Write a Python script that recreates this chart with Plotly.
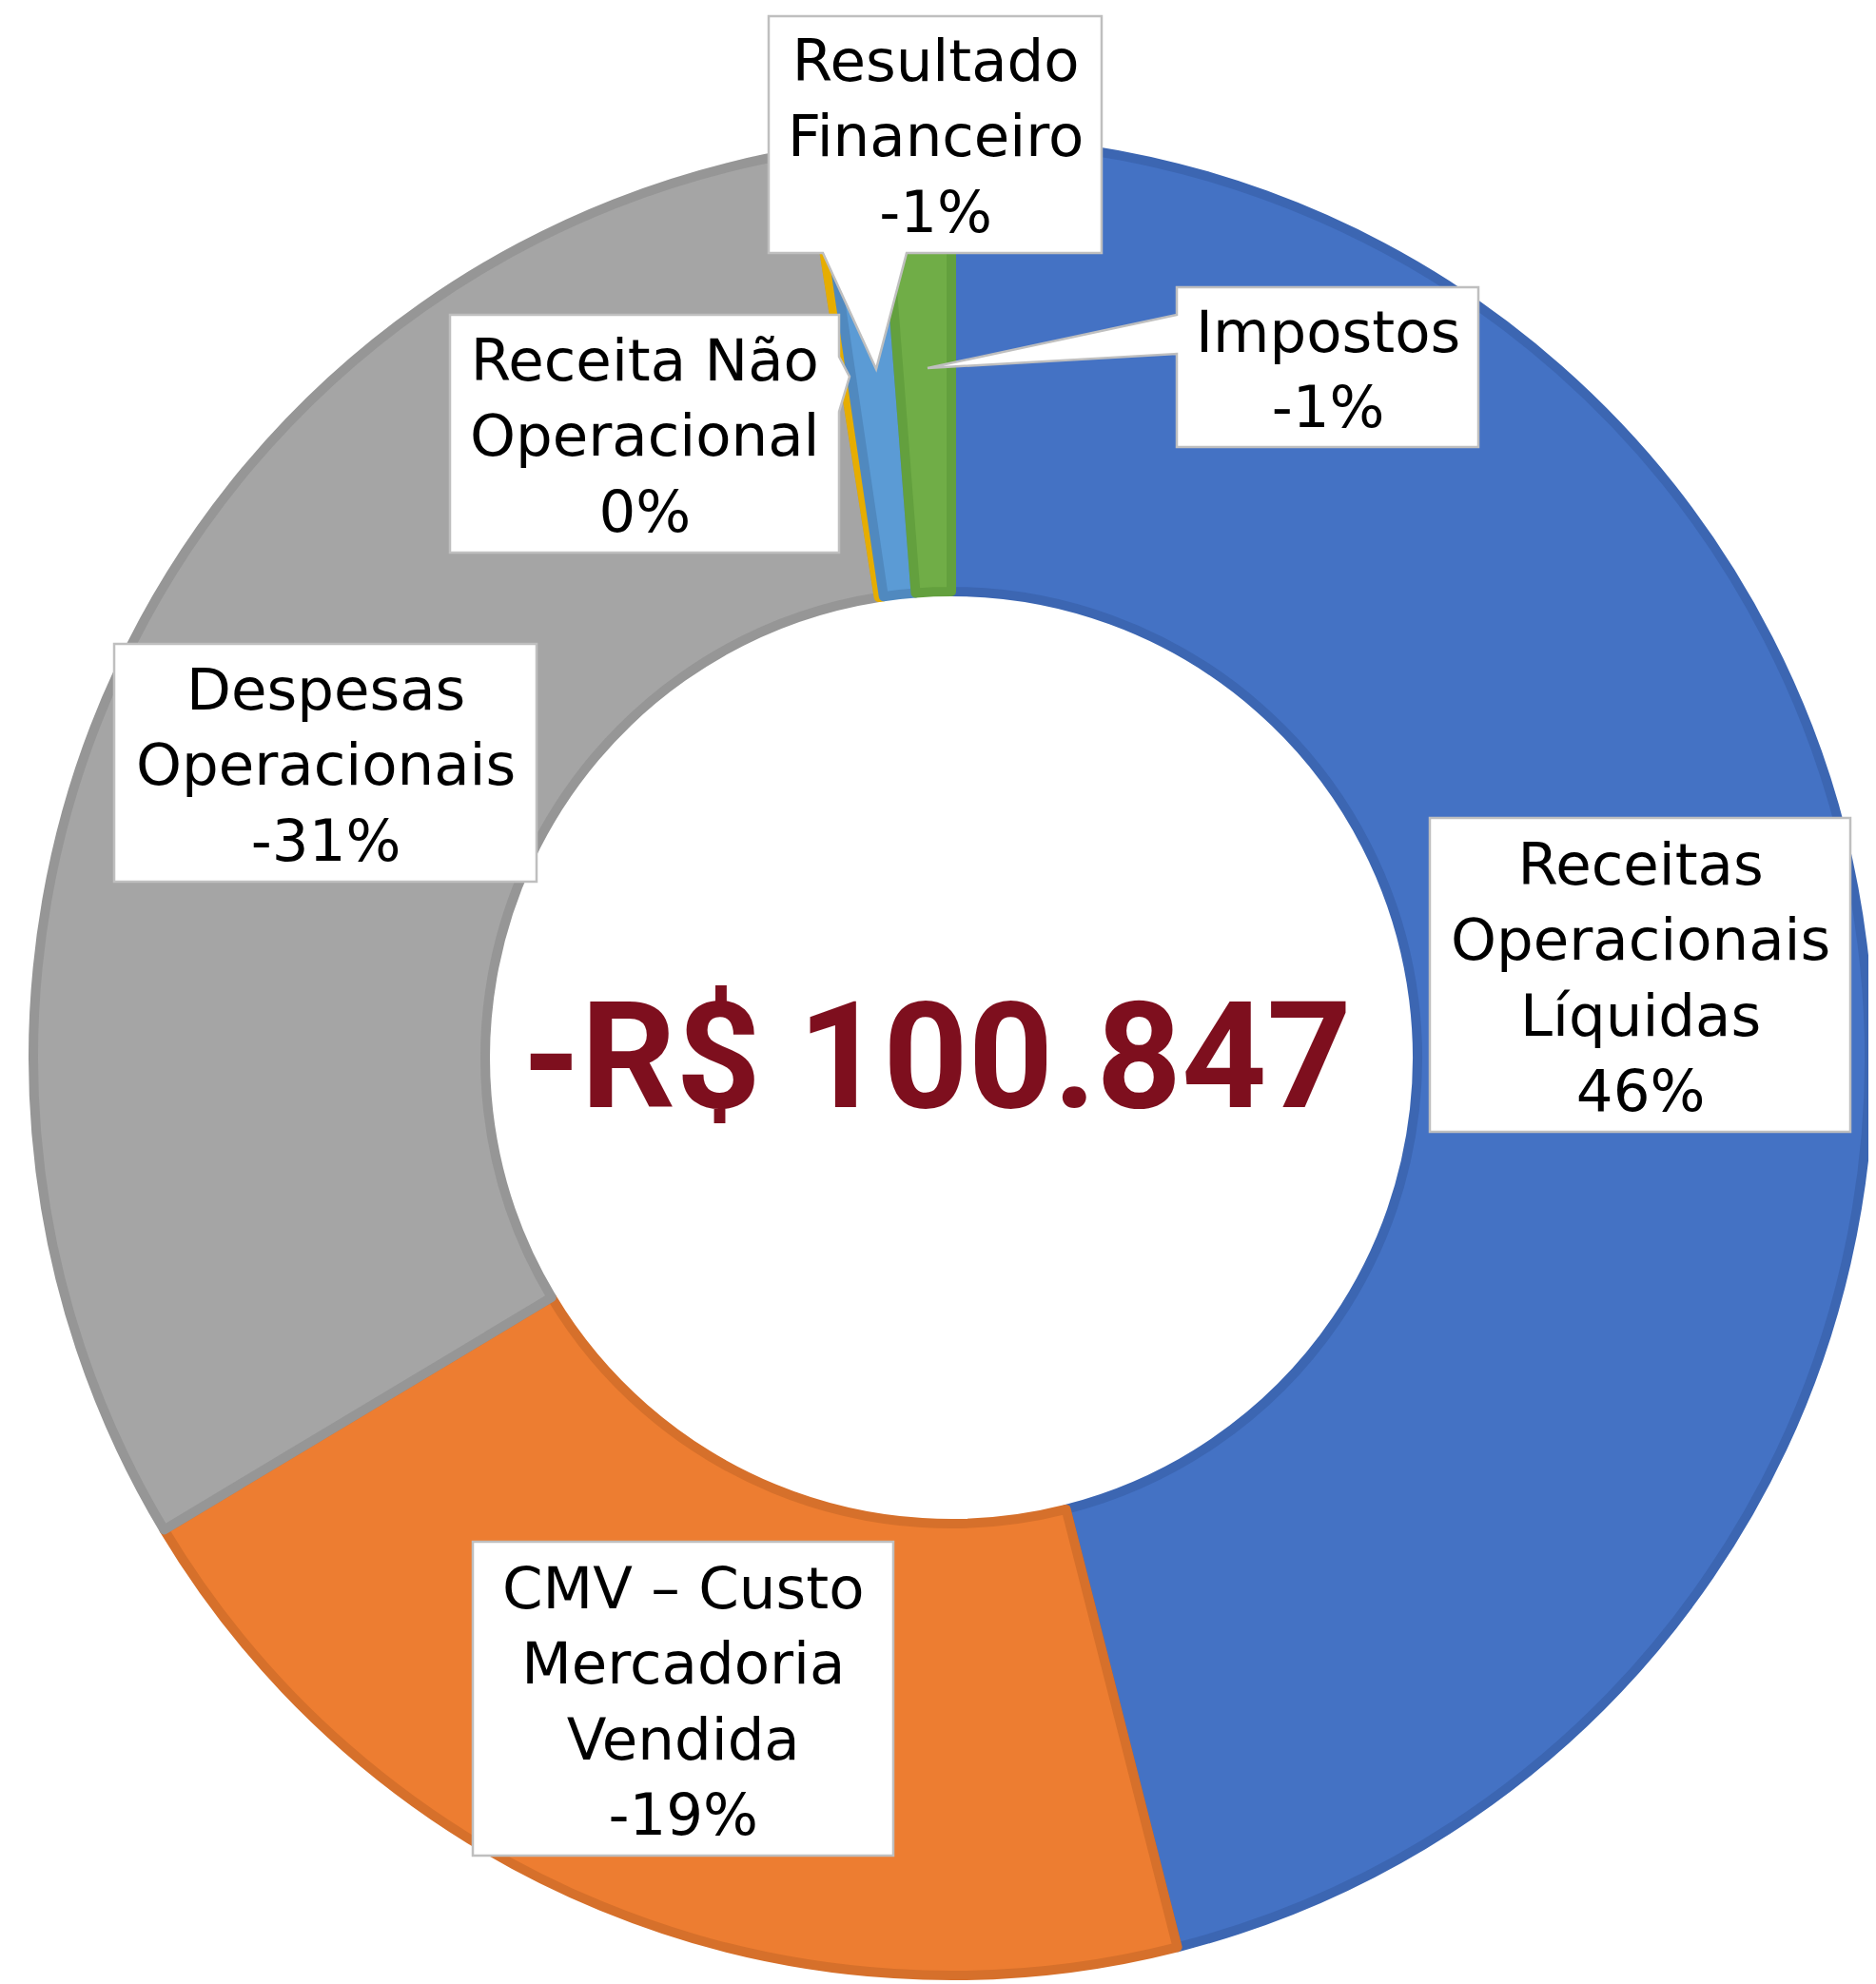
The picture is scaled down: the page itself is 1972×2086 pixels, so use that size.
import plotly.graph_objects as go

W, H = 1972, 2086
OFF = 8  # page body margin offset

# ---- data ----
categories = [
    "Receitas Operacionais Líquidas",
    "CMV – Custo Mercadoria Vendida",
    "Despesas Operacionais",
    "Receita Não Operacional",
    "Resultado Financeiro",
    "Impostos",
]
label_lines = [
    "Receitas<br>Operacionais<br>Líquidas",
    "CMV – Custo<br>Mercadoria<br>Vendida",
    "Despesas<br>Operacionais",
    "Receita Não<br>Operacional",
    "Resultado<br>Financeiro",
    "Impostos",
]
share_values = [46.04, 20.36, 31.11, 0.17, 1.10, 1.22]
pct_labels = ["46%", "-19%", "-31%", "0%", "-1%", "-1%"]
total_label = "-R$ 100.847"

# ---- style ----
fill_colors = ["#4472C4", "#ED7D31", "#A5A5A5", "#FFC000", "#5B9BD5", "#70AD47"]
edge_colors = ["#3C66B2", "#D6702B", "#969696", "#E6AD00", "#5089BF", "#63A03E"]

cx, cy, r_out, r_in = 1000 - OFF, 1112 - OFF, 965, 490
dom_x = [(cx - r_out) / W, (cx + r_out) / W]
dom_y = [(H - cy - r_out) / H, (H - cy + r_out) / H]

fig = go.Figure()
fig.add_trace(go.Pie(
    labels=categories,
    values=share_values,
    sort=False,
    direction="clockwise",
    rotation=0,
    hole=r_in / r_out,
    marker=dict(colors=fill_colors, line=dict(color=edge_colors, width=10)),
    textinfo="none",
    hoverinfo="none",
    showlegend=False,
    domain=dict(x=dom_x, y=dom_y),
))

def px(x):
    return (x - OFF) / W

def py(y):
    return 1 - (y - OFF) / H

def poly(points):
    return "M " + " L ".join(f"{px(x):.5f},{py(y):.5f}" for x, y in points) + " Z"

# label boxes (pixel coords of the callout frames) : x0, y0, x1, y1
boxes = [
    (1503, 860, 1945, 1190),
    (497, 1621, 939, 1951),
    (120, 677, 564, 927),
    (473, 331, 882, 581),
    (808, 17, 1158, 266),
    (1237, 302, 1554, 470),
]
pointers = {
    3: ("right", [(882, 375), (893, 396), (882, 433)]),
    4: ("bottom", [(953, 266), (921, 388), (865, 266)]),
    5: ("left", [(1237, 372), (975, 387), (1237, 331)]),
}

shapes = []
for i, (x0, y0, x1, y1) in enumerate(boxes):
    if i in pointers:
        side, pts = pointers[i]
        if side == "right":
            outline = [(x0, y0), (x1, y0)] + pts + [(x1, y1), (x0, y1)]
        elif side == "bottom":
            outline = [(x0, y0), (x1, y0), (x1, y1)] + pts + [(x0, y1)]
        else:
            outline = [(x0, y0), (x1, y0), (x1, y1), (x0, y1)] + pts
    else:
        outline = [(x0, y0), (x1, y0), (x1, y1), (x0, y1)]
    shapes.append(dict(type="path", xref="paper", yref="paper", path=poly(outline),
                       fillcolor="white", line=dict(color="#BFBFBF", width=2.5), layer="above"))

annotations = []
for i, (x0, y0, x1, y1) in enumerate(boxes):
    annotations.append(dict(
        x=px((x0 + x1) / 2), y=py((y0 + y1) / 2 + 2), xref="paper", yref="paper",
        xanchor="center", yanchor="middle", showarrow=False, align="center",
        text=f"{label_lines[i]}<br>{pct_labels[i]}",
        font=dict(family="DejaVu Sans", size=61, color="#000000"),
    ))

annotations.append(dict(
    x=px(985), y=py(1110), xref="paper", yref="paper",
    xanchor="center", yanchor="middle", showarrow=False,
    text=f"<b>{total_label}</b>",
    font=dict(family="Roboto", size=156, color="#7E0F1E"),
))

fig.update_layout(
    width=W, height=H,
    margin=dict(l=0, r=0, t=0, b=0),
    paper_bgcolor="white", plot_bgcolor="white",
    shapes=shapes, annotations=annotations,
)

fig.write_html("out.html")
